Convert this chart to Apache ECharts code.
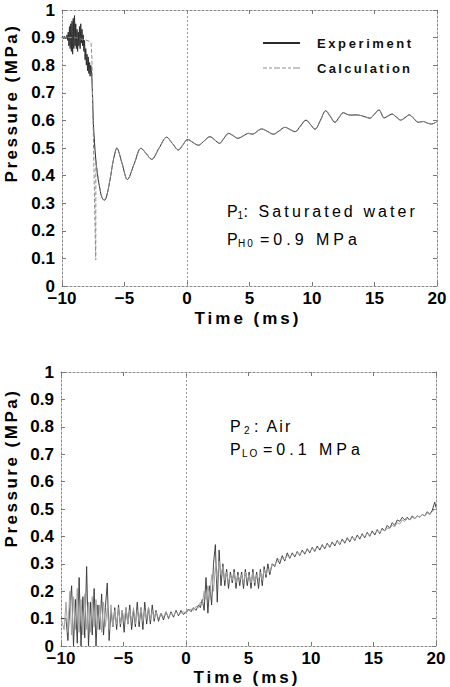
<!DOCTYPE html>
<html><head><meta charset="utf-8">
<script src="https://cdn.jsdelivr.net/npm/echarts@6/dist/echarts.min.js"></script>
<style>html,body{margin:0;padding:0;background:#fff}#chart{width:450px;height:687px}</style>
</head><body><div id="chart"></div>
<script>
// ---- axis settings ----
const timeMin = -10, timeMax = 20, timeStep = 5;
const pressMin = 0, pressMax = 1, pressStep = 0.1;

// ---- Panel 1 (P1: saturated water) ----
const p1ExpTime = [-10.0, -9.95, -9.9, -9.85, -9.8, -9.75, -9.7, -9.65, -9.6, -9.55,
 -9.5, -9.45, -9.4, -9.35, -9.3, -9.25, -9.2, -9.15, -9.1, -9.05,
 -9.0, -8.95, -8.9, -8.85, -8.8, -8.75, -8.7, -8.65, -8.6, -8.55,
 -8.5, -8.45, -8.4, -8.35, -8.3, -8.25, -8.2, -8.15, -8.1, -8.05,
 -8.0, -7.95, -7.9, -7.85, -7.8, -7.75, -7.7, -7.65, -7.6, -7.55,
 -7.5, -7.4, -7.3, -7.2, -7.1, -7.0, -6.9, -6.8, -6.7, -6.6,
 -6.5, -6.4, -6.3, -6.2, -6.1, -6.0, -5.9, -5.8, -5.7];
const p1ExpVal = [0.90, 0.905, 0.90, 0.895, 0.905, 0.90, 0.895, 0.90, 0.91, 0.89,
 0.92, 0.87, 0.94, 0.86, 0.95, 0.85, 0.96, 0.84, 0.97, 0.86,
 0.98, 0.87, 0.95, 0.86, 0.93, 0.85, 0.92, 0.87, 0.94, 0.86,
 0.95, 0.88, 0.93, 0.87, 0.91, 0.85, 0.89, 0.82, 0.86, 0.80,
 0.84, 0.78, 0.83, 0.77, 0.81, 0.76, 0.80, 0.78, 0.74, 0.68,
 0.60, 0.52, 0.46, 0.42, 0.385, 0.36, 0.335, 0.32, 0.313, 0.311,
 0.316, 0.33, 0.35, 0.375, 0.40, 0.43, 0.455, 0.475, 0.492];
const p1CalcTime = [-10.0, -9.0, -8.5, -8.0, -7.68, -7.57, -7.45, -7.3, -7.29, -7.2,
 -7.1, -7.0, -6.9, -6.8, -6.7, -6.6, -6.5, -6.4, -6.3, -6.2,
 -6.1, -6.0, -5.9, -5.8, -5.7];
const p1CalcVal = [0.90, 0.90, 0.895, 0.89, 0.88, 0.71, 0.44, 0.094, 0.45, 0.415,
 0.385, 0.36, 0.337, 0.322, 0.315, 0.313, 0.318, 0.332, 0.352, 0.377,
 0.402, 0.43, 0.455, 0.476, 0.493];
// shared damped oscillation after the pressure drop
const p1OscTime = [-5.63, -5.2, -4.77, -4.22, -3.68, -3.25, -2.83, -2.23, -1.63, -1.16,
 -0.69, -0.32, 0.05, 0.48, 0.91, 1.38, 1.84, 2.2, 2.6, 2.95,
 3.33, 3.71, 4.07, 4.5, 4.93, 5.22, 5.5, 5.75, 5.97, 6.44,
 6.9, 7.37, 7.84, 8.24, 8.64, 9.08, 9.52, 9.88, 10.24, 10.67,
 11.1, 11.47, 11.84, 12.17, 12.5, 12.8, 13.1, 13.5, 13.97, 14.3,
 14.64, 15.0, 15.36, 15.56, 15.76, 16.08, 16.4, 16.75, 17.1, 17.44,
 17.78, 18.14, 18.5, 18.71, 18.91, 19.24, 19.58, 19.97];
const p1OscVal = [0.50, 0.445, 0.386, 0.443, 0.499, 0.479, 0.459, 0.50, 0.539, 0.516,
 0.493, 0.512, 0.531, 0.52, 0.51, 0.526, 0.541, 0.53, 0.517, 0.535,
 0.553, 0.544, 0.535, 0.544, 0.553, 0.55, 0.556, 0.565, 0.569, 0.56,
 0.55, 0.562, 0.575, 0.567, 0.559, 0.58, 0.601, 0.585, 0.568, 0.60,
 0.635, 0.614, 0.593, 0.611, 0.628, 0.622, 0.619, 0.62, 0.617, 0.612,
 0.608, 0.623, 0.638, 0.624, 0.609, 0.616, 0.623, 0.612, 0.601, 0.61,
 0.62, 0.607, 0.593, 0.595, 0.596, 0.59, 0.587, 0.595];

// ---- Panel 2 (P2: air) ----
const p2Time = [-10.0, -9.75, -9.6, -9.45, -9.3, -9.15, -9.0, -8.85, -8.7, -8.55,
 -8.4, -8.25, -8.1, -7.95, -7.8, -7.65, -7.5, -7.35, -7.2, -7.05,
 -6.9, -6.75, -6.6, -6.45, -6.3, -6.15, -6.0, -5.85, -5.7, -5.55,
 -5.4, -5.25, -5.1, -4.95, -4.8, -4.65, -4.5, -4.35, -4.2, -4.05,
 -3.9, -3.75, -3.6, -3.45, -3.3, -3.15, -3.0, -2.85, -2.7, -2.55,
 -2.4, -2.2, -2.0, -1.8, -1.6, -1.4, -1.2, -1.0, -0.8, -0.6,
 -0.4, -0.2, 0.0, 0.2, 0.4, 0.6, 0.8, 1.0, 1.15, 1.3,
 1.45, 1.6, 1.75, 1.9, 2.05, 2.2, 2.35, 2.5, 2.65, 2.8,
 2.95, 3.1, 3.25, 3.4, 3.55, 3.7, 3.85, 4.0, 4.15, 4.3,
 4.45, 4.6, 4.75, 4.9, 5.05, 5.2, 5.35, 5.5, 5.65, 5.8,
 5.95, 6.1, 6.25, 6.4, 6.55, 6.7, 6.9, 7.1, 7.3, 7.5,
 7.7, 7.9, 8.1, 8.3, 8.5, 8.7, 8.9, 9.1, 9.3, 9.5,
 9.7, 9.9, 10.1, 10.3, 10.5, 10.7, 10.9, 11.1, 11.3, 11.5,
 11.7, 11.9, 12.1, 12.3, 12.5, 12.7, 12.9, 13.1, 13.3, 13.5,
 13.7, 13.9, 14.1, 14.3, 14.5, 14.7, 14.9, 15.1, 15.3, 15.5,
 15.7, 15.9, 16.1, 16.3, 16.5, 16.7, 16.9, 17.1, 17.3, 17.5,
 17.7, 17.9, 18.1, 18.3, 18.5, 18.7, 18.9, 19.1, 19.3, 19.5,
 19.7, 19.9, 20.0];
const p2ExpVal = [0.10, 0.10, 0.10, 0.02, 0.14, 0.22, 0.0, 0.17, 0.01, 0.25,
 0.0, 0.18, 0.03, 0.29, 0.0, 0.16, 0.04, 0.21, 0.0, 0.15,
 0.06, 0.19, 0.04, 0.14, 0.23, 0.02, 0.13, 0.07, 0.14, 0.06,
 0.15, 0.07, 0.13, 0.05, 0.14, 0.08, 0.15, 0.06, 0.13, 0.07,
 0.16, 0.07, 0.14, 0.06, 0.16, 0.08, 0.14, 0.08, 0.15, 0.09,
 0.13, 0.09, 0.12, 0.095, 0.125, 0.10, 0.125, 0.105, 0.13, 0.11,
 0.13, 0.115, 0.125, 0.135, 0.125, 0.14, 0.13, 0.15, 0.14, 0.17,
 0.13, 0.25, 0.12, 0.22, 0.15, 0.30, 0.37, 0.16, 0.35, 0.22,
 0.30, 0.22, 0.28, 0.21, 0.27, 0.23, 0.28, 0.21, 0.27, 0.22,
 0.27, 0.21, 0.28, 0.22, 0.27, 0.21, 0.28, 0.22, 0.27, 0.21,
 0.28, 0.22, 0.29, 0.25, 0.30, 0.26, 0.30, 0.29, 0.32, 0.30,
 0.33, 0.31, 0.34, 0.32, 0.34, 0.325, 0.345, 0.33, 0.35, 0.335,
 0.355, 0.34, 0.36, 0.345, 0.365, 0.35, 0.37, 0.355, 0.375, 0.36,
 0.38, 0.365, 0.385, 0.37, 0.39, 0.375, 0.395, 0.38, 0.40, 0.385,
 0.405, 0.39, 0.41, 0.395, 0.415, 0.40, 0.42, 0.405, 0.425, 0.41,
 0.43, 0.42, 0.44, 0.43, 0.45, 0.44, 0.46, 0.455, 0.47, 0.46,
 0.47, 0.46, 0.475, 0.465, 0.475, 0.47, 0.48, 0.475, 0.49, 0.48,
 0.495, 0.525, 0.505];
const p2CalcVal = [0.10, 0.06, 0.16, 0.05, 0.20, 0.04, 0.18, 0.06, 0.21, 0.05,
 0.17, 0.04, 0.19, 0.06, 0.16, 0.05, 0.18, 0.07, 0.17, 0.06,
 0.15, 0.05, 0.16, 0.07, 0.14, 0.06, 0.15, 0.07, 0.13, 0.08,
 0.14, 0.08, 0.13, 0.09, 0.14, 0.08, 0.13, 0.09, 0.14, 0.08,
 0.13, 0.09, 0.14, 0.09, 0.13, 0.10, 0.14, 0.095, 0.13, 0.10,
 0.125, 0.10, 0.12, 0.105, 0.125, 0.105, 0.12, 0.11, 0.125, 0.115,
 0.12, 0.125, 0.12, 0.13, 0.135, 0.13, 0.145, 0.14, 0.16, 0.15,
 0.20, 0.17, 0.22, 0.18, 0.26, 0.20, 0.29, 0.24, 0.31, 0.26,
 0.29, 0.24, 0.27, 0.23, 0.26, 0.24, 0.27, 0.23, 0.26, 0.24,
 0.26, 0.23, 0.27, 0.24, 0.26, 0.23, 0.27, 0.23, 0.26, 0.24,
 0.27, 0.24, 0.28, 0.26, 0.28, 0.27, 0.30, 0.295, 0.31, 0.315,
 0.32, 0.315, 0.33, 0.325, 0.335, 0.33, 0.34, 0.335, 0.345, 0.34,
 0.35, 0.345, 0.355, 0.35, 0.36, 0.355, 0.365, 0.36, 0.37, 0.365,
 0.375, 0.37, 0.38, 0.375, 0.385, 0.38, 0.39, 0.385, 0.395, 0.39,
 0.40, 0.395, 0.405, 0.40, 0.41, 0.405, 0.415, 0.41, 0.42, 0.415,
 0.425, 0.42, 0.43, 0.43, 0.44, 0.435, 0.45, 0.445, 0.46, 0.455,
 0.465, 0.46, 0.47, 0.465, 0.475, 0.47, 0.48, 0.475, 0.485, 0.48,
 0.49, 0.50, 0.495];

// ---- texts ----
const seriesNames = ['Experiment', 'Calculation'];
const xName = 'Time (ms)';
const yName = 'Pressure (MPa)';

// ---- build ----
const zip = (t, v) => t.map((x, i) => [x, v[i]]);
const FF = '"Liberation Sans", Arial, Helvetica, sans-serif';
const p1Exp = zip(p1ExpTime, p1ExpVal).concat(zip(p1OscTime, p1OscVal));
const p1Calc = zip(p1CalcTime, p1CalcVal).concat(zip(p1OscTime, p1OscVal));
const p2Exp = zip(p2Time, p2ExpVal);
const p2Calc = zip(p2Time, p2CalcVal);

const frameLine = {show: true, onZero: false, lineStyle: {color: '#8a8a8a', width: 1, type: [2, 2]}};
const tick = {show: true, inside: true, length: 4, lineStyle: {color: '#777', width: 1}};
const lbl = {color: '#000', fontFamily: FF, fontWeight: 'bold', fontSize: 17};

function axesFor(g) {
  const xb = {type: 'value', gridIndex: g, min: timeMin, max: timeMax, interval: timeStep, position: 'bottom',
    axisLine: frameLine, axisTick: tick, splitLine: {show: false},
    axisLabel: Object.assign({margin: 6, lineHeight: 12, formatter: v => (v < 0 ? '\u2212' + Math.abs(v) : String(v))}, lbl)};
  const xt = {type: 'value', gridIndex: g, min: timeMin, max: timeMax, interval: timeStep, position: 'top',
    axisLine: frameLine, axisTick: tick, splitLine: {show: false}, axisLabel: {show: false}};
  const yl = {type: 'value', gridIndex: g, min: pressMin, max: pressMax, interval: pressStep, position: 'left',
    axisLine: frameLine, axisTick: tick, splitLine: {show: false},
    axisLabel: Object.assign({margin: 7, lineHeight: 10, formatter: v => String(Math.round(v * 10) / 10)}, lbl)};
  const yr = {type: 'value', gridIndex: g, min: pressMin, max: pressMax, interval: pressStep, position: 'right',
    axisLine: frameLine, axisTick: tick, splitLine: {show: false}, axisLabel: {show: false}};
  return {x: [xb, xt], y: [yl, yr]};
}
const a0 = axesFor(0), a1 = axesFor(1);

const zeroLine = {silent: true, symbol: 'none', label: {show: false},
  lineStyle: {color: '#9a9a9a', width: 1, type: [2, 2]}, data: [{xAxis: 0}]};

const expColor = '#2a2a2a', calcColor = '#8c8c8c';
const expStyle = {color: expColor, width: 1};
const calcStyle = {color: calcColor, width: 1, type: [4, 2]};

function txt(x, y, s, font) {
  return {type: 'text', x: x, y: y, silent: true,
    style: {text: s, font: font, fill: '#000', textAlign: 'left', textVerticalAlign: 'middle', align: 'left', verticalAlign: 'middle'}};
}
function ctxt(x, y, s, font, rot) {
  return {type: 'text', x: x, y: y, rotation: rot || 0, silent: true,
    style: {text: s, font: font, fill: '#000', textAlign: 'center', textVerticalAlign: 'middle', align: 'center', verticalAlign: 'middle'}};
}
const fBold = 'bold 17px ' + FF;
const fReg = '16px ' + FF;
const fSub = '10px ' + FF;

const option = {
  backgroundColor: '#fff',
  animation: false,
  grid: [
    {left: 62, top: 10, width: 375, height: 276},
    {left: 61, top: 372, width: 375, height: 274}
  ],
  xAxis: a0.x.concat(a1.x),
  yAxis: a0.y.concat(a1.y),
  legend: {
    show: true, selectedMode: false, orient: 'vertical', left: 258, top: 30,
    itemWidth: 37, itemHeight: 2, itemGap: 9,
    data: [
      {name: seriesNames[0], icon: 'rect'},
      {name: seriesNames[1], icon: 'path://M0,0h4v1h-4zM6,0h3v1h-3zM11,0h6v1h-6zM19,0h4v1h-4zM25,0h3v1h-3zM30,0h7v1h-7z'}
    ],
    textStyle: {fontFamily: FF, fontWeight: 'bold', fontSize: 13, color: '#111', padding: [0, 0, 0, 12], lineHeight: 16}
  },
  graphic: [
    ctxt(11, 103, yName, fBold, Math.PI / 2),
    ctxt(11, 468, yName, fBold, Math.PI / 2),
    ctxt(248, 318, xName, fBold),
    ctxt(247, 677, xName, fBold),
    txt(227, 211, 'P', fReg), txt(237.5, 215, '1', fSub), txt(243.5, 211, ': Saturated water', fReg),
    txt(227, 239, 'P', fReg), txt(238, 243, 'H0', fSub), txt(260, 239, '=0.9 MPa', fReg),
    txt(230, 426, 'P', fReg), txt(244, 430, '2', fSub), txt(254, 426, ': Air', fReg),
    txt(230, 449, 'P', fReg), txt(242, 453, 'LO', fSub), txt(263, 449, '=0.1 MPa', fReg)
  ],
  series: [
    {name: seriesNames[0], type: 'line', xAxisIndex: 0, yAxisIndex: 0, data: p1Exp, showSymbol: false, symbol: 'none',
      smooth: 0.35, lineStyle: expStyle, itemStyle: {color: expColor}, z: 3, markLine: zeroLine},
    {name: seriesNames[1], type: 'line', xAxisIndex: 0, yAxisIndex: 0, data: p1Calc, showSymbol: false, symbol: 'none',
      smooth: 0.35, lineStyle: calcStyle, itemStyle: {color: calcColor}, z: 4},
    {name: seriesNames[0], type: 'line', xAxisIndex: 2, yAxisIndex: 2, data: p2Exp, showSymbol: false, symbol: 'none',
      lineStyle: {color: '#333', width: 0.9}, itemStyle: {color: expColor}, z: 3, markLine: zeroLine},
    {name: seriesNames[1], type: 'line', xAxisIndex: 2, yAxisIndex: 2, data: p2Calc, showSymbol: false, symbol: 'none',
      lineStyle: {color: '#a3a3a3', width: 1}, itemStyle: {color: calcColor}, z: 4}
  ]
};

const chart = echarts.init(document.getElementById('chart'), null, {renderer: 'svg'});
chart.setOption(option);

// letter spacing of the printed labels (SVG text)
const spacing = {'Pressure (MPa)': 2.5, 'Time (ms)': 3, 'Experiment': 2.6, 'Calculation': 2.3,
  ': Saturated water': 3.1, '=0.9 MPa': 4, ': Air': 2.2, '=0.1 MPa': 4, 'H0': 2, 'LO': 2};
function applySpacing() {
  document.querySelectorAll('#chart svg text').forEach(t => {
    const s = spacing[t.textContent];
    if (s) t.style.letterSpacing = s + 'px';
  });
}
applySpacing();
chart.on('finished', applySpacing);
setTimeout(applySpacing, 0);
</script>
</body></html>
